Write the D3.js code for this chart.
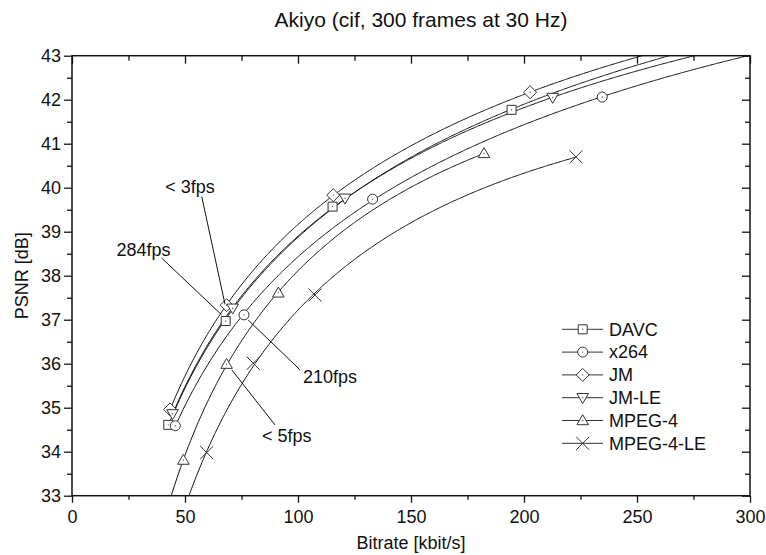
<!doctype html>
<html>
<head>
  <meta charset="utf8">
  <title>Akiyo</title>
  <style>
    body { margin: 0; padding: 0; background: #fff; }
    svg { display: block; font-family: "Liberation Sans", Arial, sans-serif; }
  </style>
</head>
<body>
  <svg id="chart"></svg>

  <script src="https://d3js.org/d3.v7.min.js"></script>
  <script>
    // data (bitrate in kbit/s, PSNR in dB)
    const seriesNames = ['DAVC', 'x264', 'JM', 'JM-LE', 'MPEG-4', 'MPEG-4-LE']
    const markerShapes = ['square', 'circle', 'diamond', 'triDown', 'triUp', 'cross']

    const davcRate = [42.6, 68.0, 115.3, 194.5]
    const davcPsnr = [34.61, 36.97, 39.57, 41.77]
    const x264Rate = [45.7, 76.1, 133.0, 234.6]
    const x264Psnr = [34.59, 37.11, 39.74, 42.06]
    const jmRate = [43.4, 68.4, 115.6, 202.7]
    const jmPsnr = [34.96, 37.33, 39.83, 42.17]
    const jmLeRate = [44.5, 71.1, 120.8, 212.7]
    const jmLePsnr = [34.86, 37.26, 39.76, 42.05]
    const mpeg4Rate = [49.3, 68.4, 91.3, 182.3]
    const mpeg4Psnr = [33.81, 35.99, 37.61, 40.78]
    const mpeg4LeRate = [59.6, 80.2, 107.5, 223.0]
    const mpeg4LePsnr = [33.98, 36.01, 37.56, 40.70]

    const rates = [davcRate, x264Rate, jmRate, jmLeRate, mpeg4Rate, mpeg4LeRate]
    const psnrs = [davcPsnr, x264Psnr, jmPsnr, jmLePsnr, mpeg4Psnr, mpeg4LePsnr]
    // whether the fitted curve runs on past the first / last measured point
    const extendLow = [false, false, false, false, true, true]
    const extendHigh = [true, true, true, true, false, false]

    const xTicks = [0, 50, 100, 150, 200, 250, 300]
    const yTicks = [33, 34, 35, 36, 37, 38, 39, 40, 41, 42, 43]

    // frame-rate notes: text spot and leader line, in data units
    const noteLabels = ['< 3fps', '284fps', '210fps', '< 5fps']
    const noteText = [[52.2, 40.02], [31.6, 38.59], [114.2, 35.70], [95.0, 34.36]]
    const noteFrom = [[57.4, 39.80], [39.7, 38.40], [100.9, 35.86], [89.8, 34.61]]
    const noteTo = [[67.7, 37.35], [66.2, 37.11], [78.0, 36.99], [70.7, 35.86]]

    const width = 766
    const height = 555
    const pl = 72, pr = 750, pt = 55.7, pb = 495.7

    const svg = d3.select('#chart')
      .attr('width', width)
      .attr('height', height)

    const x = d3.scaleLinear().domain([0, 300]).range([pl, pr])
    const y = d3.scaleLinear().domain([33, 43]).range([pb, pt])

    // least squares fit psnr = a + b ln(r) + c ln(r)^2
    function fit (rs, ps) {
      const m = [[0, 0, 0], [0, 0, 0], [0, 0, 0]]
      const v = [0, 0, 0]
      rs.forEach((r, i) => {
        const L = Math.log(r)
        const f = [1, L, L * L]
        for (let j = 0; j < 3; j++) {
          v[j] += f[j] * ps[i]
          for (let k = 0; k < 3; k++) m[j][k] += f[j] * f[k]
        }
      })
      // gaussian elimination
      for (let i = 0; i < 3; i++) {
        for (let j = i + 1; j < 3; j++) {
          const q = m[j][i] / m[i][i]
          for (let k = i; k < 3; k++) m[j][k] -= q * m[i][k]
          v[j] -= q * v[i]
        }
      }
      const c = [0, 0, 0]
      for (let i = 2; i >= 0; i--) {
        let s = v[i]
        for (let k = i + 1; k < 3; k++) s -= m[i][k] * c[k]
        c[i] = s / m[i][i]
      }
      return r => { const L = Math.log(r); return c[0] + c[1] * L + c[2] * L * L }
    }

    svg.append('defs').append('clipPath').attr('id', 'plot')
      .append('rect')
      .attr('x', pl).attr('y', pt)
      .attr('width', pr - pl).attr('height', pb - pt)

    const line = d3.line().x(d => x(d[0])).y(d => y(d[1]))

    const curves = svg.append('g').attr('clip-path', 'url(#plot)')
    seriesNames.forEach((name, i) => {
      const f = fit(rates[i], psnrs[i])
      const lo = extendLow[i] ? 30 : rates[i][0]
      const hi = extendHigh[i] ? 300 : rates[i][rates[i].length - 1]
      const pts = d3.range(lo, hi, 0.5).concat([hi]).map(r => [r, f(r)])
      curves.append('path')
        .attr('d', line(pts))
        .style('fill', 'none')
        .style('stroke', '#111')
        .style('stroke-width', 1)
    })

    // marker shapes centred on 0,0
    function shape (kind) {
      switch (kind) {
        case 'square': return 'M-4.5,-4.5H4.5V4.5H-4.5Z'
        case 'circle': return 'M5,0A5,5 0 1,1 -5,0A5,5 0 1,1 5,0Z'
        case 'diamond': return 'M0,-6.5L6.5,0L0,6.5L-6.5,0Z'
        case 'triDown': return 'M-5.8,-4.2H5.8L0,5.8Z'
        case 'triUp': return 'M-5.8,4.2H5.8L0,-5.8Z'
        case 'cross': return 'M-6.5,-6.5L6.5,6.5M-6.5,6.5L6.5,-6.5'
      }
    }

    function marker (g, kind, cx, cy) {
      g.append('path')
        .attr('d', shape(kind))
        .attr('transform', `translate(${cx},${cy})`)
        .style('fill', kind === 'cross' ? 'none' : '#fff')
        .style('stroke', '#333')
        .style('stroke-width', 1)
      if (kind !== 'cross') {
        g.append('circle').attr('cx', cx).attr('cy', cy).attr('r', 0.7)
          .style('fill', '#555')
      }
    }

    const marks = svg.append('g')
    seriesNames.forEach((name, i) => {
      rates[i].forEach((r, j) => marker(marks, markerShapes[i], x(r), y(psnrs[i][j])))
    })

    // notes
    const notes = svg.append('g')
    noteLabels.forEach((t, i) => {
      notes.append('line')
        .attr('x1', x(noteFrom[i][0])).attr('y1', y(noteFrom[i][1]))
        .attr('x2', x(noteTo[i][0])).attr('y2', y(noteTo[i][1]))
        .style('stroke', '#111').style('stroke-width', 1)
      notes.append('text')
        .attr('x', x(noteText[i][0])).attr('y', y(noteText[i][1]))
        .attr('dy', '0.35em')
        .style('text-anchor', 'middle')
        .style('font-size', '18px')
        .style('fill', '#111')
        .text(t)
    })

    // axes: left / bottom ticks outward, top / right ticks inward
    const xMinor = d3.range(25, 300, 50)
    const yMinor = d3.range(33.5, 43, 1)

    const axisG = svg.append('g')

    const bottomAxis = d3.axisBottom(x).tickValues(xTicks).tickSize(7).tickSizeOuter(0).tickPadding(8)
    axisG.append('g').attr('transform', `translate(0,${pb})`).call(bottomAxis)
    axisG.append('g').attr('transform', `translate(0,${pb})`)
      .call(d3.axisBottom(x).tickValues(xMinor).tickSize(4).tickSizeOuter(0).tickFormat(''))

    const leftAxis = d3.axisLeft(y).tickValues(yTicks).tickSize(8).tickSizeOuter(0).tickPadding(3)
    axisG.append('g').attr('transform', `translate(${pl},0)`).call(leftAxis)
    axisG.append('g').attr('transform', `translate(${pl},0)`)
      .call(d3.axisLeft(y).tickValues(yMinor).tickSize(5).tickSizeOuter(0).tickFormat(''))

    axisG.append('g').attr('transform', `translate(0,${pt})`)
      .call(d3.axisBottom(x).tickValues(xTicks).tickSize(8).tickSizeOuter(0).tickFormat(''))
    axisG.append('g').attr('transform', `translate(0,${pt})`)
      .call(d3.axisBottom(x).tickValues(xMinor).tickSize(5).tickSizeOuter(0).tickFormat(''))
    axisG.append('g').attr('transform', `translate(${pr},0)`)
      .call(d3.axisLeft(y).tickValues(yTicks).tickSize(8).tickSizeOuter(0).tickFormat(''))
    axisG.append('g').attr('transform', `translate(${pr},0)`)
      .call(d3.axisLeft(y).tickValues(yMinor).tickSize(5).tickSizeOuter(0).tickFormat(''))

    axisG.selectAll('.domain').remove()
    axisG.selectAll('line').style('stroke', '#111').style('stroke-width', 1.3)
    axisG.selectAll('text')
      .style('fill', '#111')
      .style('font-size', '18px')
      .style('font-family', '"Liberation Sans", Arial, sans-serif')

    svg.append('rect')
      .attr('x', pl).attr('y', pt)
      .attr('width', pr - pl).attr('height', pb - pt)
      .style('fill', 'none').style('stroke', '#111').style('stroke-width', 1.5)

    // legend
    const legend = svg.append('g')
    seriesNames.forEach((name, i) => {
      const ly = 329.3 + i * 22.8
      legend.append('line')
        .attr('x1', 562).attr('x2', 603).attr('y1', ly).attr('y2', ly)
        .style('stroke', '#333').style('stroke-width', 1)
      marker(legend, markerShapes[i], 582.7, ly)
      legend.append('text')
        .attr('x', 609).attr('y', ly).attr('dy', '0.35em')
        .style('font-size', '18px').style('fill', '#111')
        .text(name)
    })

    // titles
    svg.append('text')
      .attr('x', 421).attr('y', 27)
      .style('text-anchor', 'middle').style('font-size', '21px').style('fill', '#111')
      .text('Akiyo (cif, 300 frames at 30 Hz)')

    svg.append('text')
      .attr('x', (pl + pr) / 2).attr('y', 549)
      .style('text-anchor', 'middle').style('font-size', '18px').style('fill', '#111')
      .text('Bitrate [kbit/s]')

    svg.append('text')
      .attr('transform', `translate(28,${(pt + pb) / 2}) rotate(-90)`)
      .style('text-anchor', 'middle').style('font-size', '18px').style('fill', '#111')
      .text('PSNR [dB]')
  </script>
</body>
</html>
